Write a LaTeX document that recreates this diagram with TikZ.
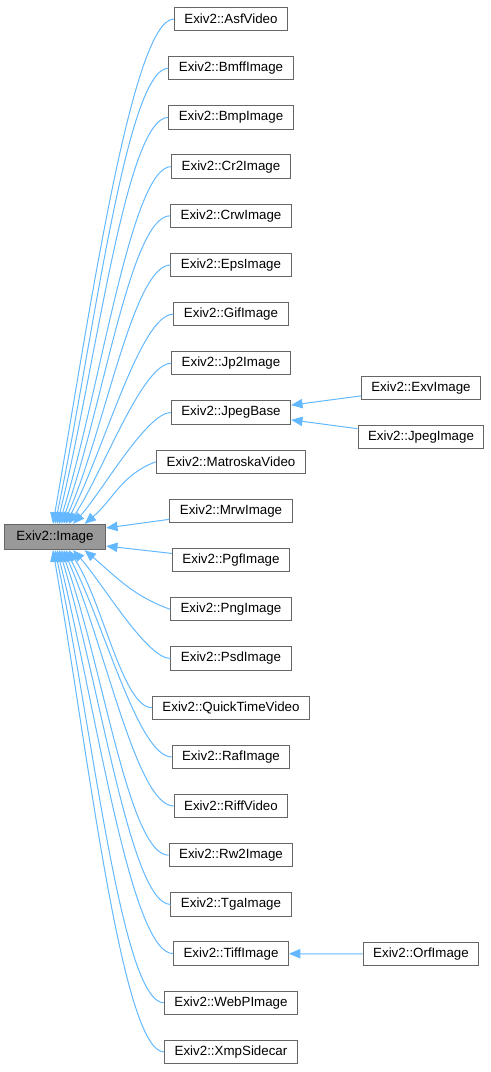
\documentclass[tikz,border=0pt]{standalone}
\usepackage{fontspec}
\setmainfont{Liberation Sans}
\usetikzlibrary{arrows.meta}
\definecolor{edgeblue}{HTML}{63B8FF}
\definecolor{boxline}{HTML}{666666}
\definecolor{basefill}{HTML}{999999}

\begin{document}
\begin{tikzpicture}[
 x=0.75pt, y=-0.75pt,
 cls/.style={rectangle, draw=boxline, line width=0.75pt, fill=white, font=\fontsize{10}{12}\selectfont, inner xsep=7.5pt, inner ysep=0pt, minimum height=17.5pt},
 basecls/.style={cls, fill=basefill, minimum width=76pt, minimum height=19pt},
 edge/.style={-{Triangle[length=8.5pt,width=7pt]}, edgeblue, line width=0.75pt},
]
\useasboundingbox (0,0) rectangle (490,1072);

\node[basecls] (image) at (55,537) {Exiv2::Image};

\node[cls] (asf) at (231,19) {Exiv2::AsfVideo};
\node[cls] (bmff) at (231,68.2) {Exiv2::BmffImage};
\node[cls] (bmp) at (231,117.4) {Exiv2::BmpImage};
\node[cls] (cr2) at (231,166.6) {Exiv2::Cr2Image};
\node[cls] (crw) at (231,215.8) {Exiv2::CrwImage};
\node[cls] (eps) at (231,265) {Exiv2::EpsImage};
\node[cls] (gif) at (231,314.1) {Exiv2::GifImage};
\node[cls] (jp2) at (231,363.3) {Exiv2::Jp2Image};
\node[cls] (jpegbase) at (231,412.5) {Exiv2::JpegBase};
\node[cls] (matroska) at (231,461.7) {Exiv2::MatroskaVideo};
\node[cls] (mrw) at (231,510.9) {Exiv2::MrwImage};
\node[cls] (pgf) at (231,560.1) {Exiv2::PgfImage};
\node[cls] (png) at (231,609.3) {Exiv2::PngImage};
\node[cls] (psd) at (231,658.5) {Exiv2::PsdImage};
\node[cls] (quicktime) at (231,707.7) {Exiv2::QuickTimeVideo};
\node[cls] (raf) at (231,756.9) {Exiv2::RafImage};
\node[cls] (riff) at (231,806) {Exiv2::RiffVideo};
\node[cls] (rw2) at (231,855.2) {Exiv2::Rw2Image};
\node[cls] (tga) at (231,904.4) {Exiv2::TgaImage};
\node[cls] (tiff) at (231,953.6) {Exiv2::TiffImage};
\node[cls] (webp) at (231,1002.8) {Exiv2::WebPImage};
\node[cls] (xmp) at (231,1052) {Exiv2::XmpSidecar};

\node[cls] (exv) at (421,388) {Exiv2::ExvImage};
\node[cls] (jpeg) at (421,437) {Exiv2::JpegImage};
\node[cls] (orf) at (421,954) {Exiv2::OrfImage};

% upper fan
\draw[edge] (asf.west) to[out=180, in=80, out distance=32pt, in distance=150pt] (image.99);
\draw[edge] (bmff.west) to[out=180, in=78, out distance=32pt, in distance=135pt] (image.90);
\draw[edge] (bmp.west) to[out=180, in=76, out distance=32pt, in distance=120pt] (image.81);
\draw[edge] (cr2.west) to[out=180, in=73, out distance=30pt, in distance=105pt] (image.72);
\draw[edge] (crw.west) to[out=180, in=70, out distance=30pt, in distance=90pt] (image.64);
\draw[edge] (eps.west) to[out=180, in=66, out distance=28pt, in distance=75pt] (image.57);
\draw[edge] (gif.west) to[out=180, in=62, out distance=25pt, in distance=60pt] (image.51);
\draw[edge] (jp2.west) to[out=180, in=56, out distance=22pt, in distance=45pt] (image.44);
\draw[edge] (jpegbase.west) to[out=180, in=48, out distance=18pt, in distance=32pt] (image.36);
\draw[edge] (matroska.west) to[out=200, in=40] (image.24);
\draw[edge] (mrw) -- (image.10);
% lower fan
\draw[edge] (pgf) -- (image.-10);
\draw[edge] (png.west) to[out=160, in=-40] (image.-24);
\draw[edge] (psd.west) to[out=180, in=-48, out distance=18pt, in distance=32pt] (image.-36);
\draw[edge] (quicktime.west) to[out=180, in=-56, out distance=22pt, in distance=45pt] (image.-44);
\draw[edge] (raf.west) to[out=180, in=-62, out distance=25pt, in distance=60pt] (image.-51);
\draw[edge] (riff.west) to[out=180, in=-66, out distance=28pt, in distance=75pt] (image.-57);
\draw[edge] (rw2.west) to[out=180, in=-70, out distance=30pt, in distance=90pt] (image.-64);
\draw[edge] (tga.west) to[out=180, in=-73, out distance=30pt, in distance=105pt] (image.-72);
\draw[edge] (tiff.west) to[out=180, in=-76, out distance=32pt, in distance=120pt] (image.-81);
\draw[edge] (webp.west) to[out=180, in=-78, out distance=32pt, in distance=135pt] (image.-90);
\draw[edge] (xmp.west) to[out=180, in=-80, out distance=32pt, in distance=150pt] (image.-99);

% second level
\draw[edge] (exv) -- (jpegbase.7);
\draw[edge] (jpeg) -- (jpegbase.-7);
\draw[edge] (orf) -- (tiff);
\end{tikzpicture}
\end{document}
